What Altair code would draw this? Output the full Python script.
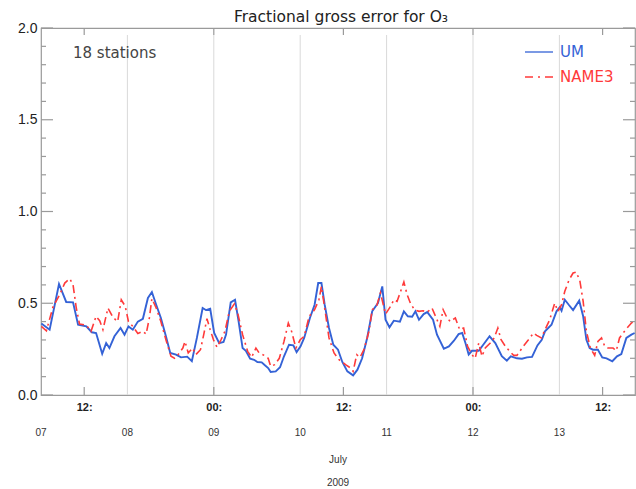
import altair as alt
import pandas as pd

# Hours since 2009-07-07 00:00 and fractional gross error, 18-station mean
um_hours = [0.1, 2.4, 5.0, 7.0, 8.9, 10.3, 12.6, 14.1, 15.3, 17.0, 18.1, 19.0, 20.4, 22.1, 23.2,
            24.3, 25.5, 26.9, 28.3, 29.7, 30.8, 32.0, 33.3, 34.7, 35.9, 37.5, 38.9, 40.6, 41.9,
            43.3, 44.9, 45.8, 47.0, 48.1, 49.5, 50.7, 51.4, 52.7, 53.9, 54.9, 56.0, 56.9, 58.1,
            59.2, 60.1, 61.3, 62.2, 63.1, 63.8, 65.2, 66.4, 67.5, 68.9, 70.1, 71.0, 72.1, 73.1,
            74.7, 76.0, 77.0, 77.9, 78.8, 80.0, 81.2, 82.5, 83.7, 85.1, 86.7, 87.9, 89.2, 90.6,
            92.0, 93.6, 94.8, 95.7, 96.8, 98.0, 99.7, 100.8, 101.9, 103.1, 104.0, 105.0, 106.3,
            107.3, 108.9, 110.0, 111.9, 113.3, 114.7, 116.0, 117.0, 117.9, 118.8, 119.7, 121.6,
            123.0, 124.6, 126.2, 128.0, 129.4, 130.5, 132.2, 133.6, 135.0, 136.4, 137.9, 139.1,
            140.0, 141.8, 143.2, 144.1, 144.6, 145.5, 146.7, 147.8, 149.5, 150.6, 151.5, 152.4,
            153.3, 154.7, 155.9, 157.1, 158.7, 160.0, 161.2, 162.6, 164.0, 164.9]
um_error = [0.39, 0.356, 0.605, 0.507, 0.505, 0.383, 0.374, 0.342, 0.338, 0.225, 0.283, 0.256,
            0.32, 0.365, 0.329, 0.374, 0.356, 0.40, 0.415, 0.529, 0.561, 0.492, 0.42, 0.32, 0.229,
            0.22, 0.205, 0.209, 0.184, 0.311, 0.474, 0.463, 0.47, 0.338, 0.283, 0.289, 0.329,
            0.505, 0.519, 0.40, 0.256, 0.241, 0.198, 0.192, 0.18, 0.178, 0.162, 0.147, 0.125,
            0.129, 0.151, 0.211, 0.274, 0.271, 0.234, 0.265, 0.311, 0.42, 0.492, 0.61, 0.61,
            0.492, 0.365, 0.274, 0.247, 0.18, 0.129, 0.107, 0.138, 0.20, 0.311, 0.456, 0.501,
            0.592, 0.41, 0.369, 0.405, 0.40, 0.456, 0.429, 0.427, 0.456, 0.41, 0.441, 0.452,
            0.41, 0.329, 0.252, 0.265, 0.296, 0.332, 0.338, 0.283, 0.22, 0.241, 0.241, 0.278,
            0.32, 0.283, 0.211, 0.187, 0.211, 0.20, 0.198, 0.205, 0.208, 0.27, 0.301, 0.347,
            0.383, 0.456, 0.478, 0.459, 0.519, 0.489, 0.463, 0.514, 0.429, 0.301, 0.256, 0.247,
            0.247, 0.205, 0.20, 0.184, 0.211, 0.223, 0.311, 0.329, 0.338]

name3_hours = [0.1, 1.5, 3.3, 5.2, 6.6, 8.0, 8.9, 9.8, 10.7, 12.6, 13.9, 15.3, 16.3, 17.2, 18.6,
               20.0, 21.3, 22.3, 23.4, 24.3, 25.5, 26.9, 28.3, 29.2, 30.1, 30.8, 32.0, 33.3,
               34.7, 36.1, 37.1, 38.2, 39.4, 40.0, 40.9, 42.1, 43.0, 44.3, 45.2, 46.1, 47.0,
               47.9, 48.9, 50.0, 51.1, 52.3, 53.7, 54.6, 56.0, 57.4, 58.5, 59.7, 60.6, 62.0,
               63.1, 63.8, 64.9, 66.2, 67.5, 68.7, 69.6, 70.8, 72.0, 73.1, 74.5, 76.0, 77.2,
               77.9, 78.8, 80.0, 81.4, 82.8, 83.7, 84.6, 86.0, 86.7, 87.7, 88.6, 89.7, 91.1,
               92.0, 93.2, 94.3, 95.7, 97.1, 98.0, 98.9, 99.9, 100.8, 101.7, 102.6, 103.7,
               105.0, 106.1, 107.3, 108.6, 110.0, 110.8, 111.7, 112.8, 113.7, 115.1, 116.3,
               117.4, 118.5, 119.7, 120.6, 121.6, 122.5, 123.4, 124.8, 125.9, 126.9, 127.8,
               129.0, 130.2, 131.3, 132.2, 133.1, 134.2, 135.4, 136.8, 137.7, 139.0, 140.0,
               141.3, 142.7, 143.6, 144.6, 145.5, 146.7, 147.8, 148.7, 149.7, 150.6, 151.5,
               152.6, 153.8, 154.7, 155.7, 156.6, 157.5, 158.9, 159.8, 160.7, 161.7, 162.8,
               164.0, 164.9]
name3_error = [0.374, 0.35, 0.478, 0.547, 0.61, 0.634, 0.601, 0.474, 0.387, 0.38, 0.347, 0.429,
               0.405, 0.356, 0.474, 0.423, 0.40, 0.519, 0.483, 0.40, 0.374, 0.335, 0.347, 0.332,
               0.42, 0.525, 0.474, 0.40, 0.301, 0.211, 0.20, 0.223, 0.256, 0.292, 0.229, 0.256,
               0.22, 0.247, 0.329, 0.416, 0.356, 0.301, 0.26, 0.301, 0.347, 0.456, 0.496, 0.45,
               0.329, 0.238, 0.205, 0.256, 0.229, 0.216, 0.20, 0.156, 0.165, 0.20, 0.292, 0.392,
               0.347, 0.256, 0.301, 0.32, 0.429, 0.465, 0.519, 0.592, 0.474, 0.311, 0.229, 0.192,
               0.18, 0.165, 0.147, 0.129, 0.22, 0.205, 0.247, 0.347, 0.465, 0.483, 0.556, 0.441,
               0.483, 0.519, 0.51, 0.565, 0.616, 0.547, 0.501, 0.465, 0.456, 0.459, 0.452, 0.474,
               0.41, 0.374, 0.465, 0.42, 0.40, 0.42, 0.356, 0.365, 0.265, 0.22, 0.20, 0.283,
               0.211, 0.256, 0.283, 0.311, 0.365, 0.301, 0.265, 0.238, 0.216, 0.216, 0.241, 0.271,
               0.301, 0.338, 0.325, 0.311, 0.356, 0.41, 0.501, 0.456, 0.492, 0.565, 0.628, 0.665,
               0.67, 0.62, 0.51, 0.347, 0.256, 0.216, 0.292, 0.311, 0.265, 0.256, 0.256, 0.241,
               0.311, 0.338, 0.365, 0.392, 0.41]

# Axis furniture
tick_hours = [12, 48, 84, 120, 156]
grid_hours = [24, 48, 72, 96, 120, 144]
day_hours = [0, 24, 48, 72, 96, 120, 144]
day_labels = ["07", "08", "09", "10", "11", "12", "13"]
y_major = [0.0, 0.5, 1.0, 1.5, 2.0]
y_minor = [0.1, 0.2, 0.3, 0.4, 0.6, 0.7, 0.8, 0.9, 1.1, 1.2, 1.3, 1.4, 1.6, 1.7, 1.8, 1.9]

UM_COLOR = "#3462d6"
NAME3_COLOR = "#ff3a3a"
FRAME = "#9a9a9a"
W, H = 594, 367

x_enc = alt.X(
    "hour:Q",
    scale=alt.Scale(domain=[0, 165], nice=False, zero=False),
    axis=alt.Axis(
        values=tick_hours, labelExpr="datum.value % 24 == 12 ? '12:' : '00:'",
        ticks=False, tickSize=0, domain=False, grid=False, title=None,
        labelFont="Liberation Sans", labelFontSize=11, labelFontWeight="bold",
        labelColor="#222", labelPadding=6,
    ),
)
y_enc = alt.Y(
    "value:Q",
    scale=alt.Scale(domain=[0, 2], nice=False),
    axis=alt.Axis(
        values=y_major, format=".1f", ticks=False, tickSize=0, domain=False, grid=False,
        title=None, labelFont="Liberation Sans", labelFontSize=14, labelColor="#222",
        labelPadding=4,
    ),
)

um_df = pd.DataFrame({"hour": um_hours, "value": um_error})
name3_df = pd.DataFrame({"hour": name3_hours, "value": name3_error})

grid = alt.Chart(pd.DataFrame({"hour": grid_hours})).mark_rule(
    color="#d9d9d9", strokeWidth=1
).encode(x=x_enc, y=alt.value(7), y2=alt.value(H))

um_line = alt.Chart(um_df).mark_line(color=UM_COLOR, strokeWidth=1.9).encode(x=x_enc, y=y_enc)
name3_line = alt.Chart(name3_df).mark_line(
    color=NAME3_COLOR, strokeWidth=1.6, strokeDash=[8, 4, 2, 4]
).encode(x=x_enc, y=y_enc)

major_df = pd.DataFrame({"value": y_major})
minor_df = pd.DataFrame({"value": y_minor})
xt_df = pd.DataFrame({"hour": tick_hours})


def yticks(df, x0, x1):
    return alt.Chart(df).mark_rule(color=FRAME, strokeWidth=1.2).encode(
        y=y_enc, x=alt.value(x0), x2=alt.value(x1))


def xticks(y0, y1):
    return alt.Chart(xt_df).mark_rule(color=FRAME, strokeWidth=1.2).encode(
        x=x_enc, y=alt.value(y0), y2=alt.value(y1))


ticks = [
    yticks(major_df, 0, 12), yticks(minor_df, 0, 5),
    yticks(major_df, W, W - 12), yticks(minor_df, W, W - 5),
    xticks(0, 7), xticks(H, H - 8),
]

days = alt.Chart(pd.DataFrame({"hour": day_hours, "label": day_labels})).mark_text(
    font="Liberation Sans", fontSize=10, color="#333", baseline="middle"
).encode(x=x_enc, y=alt.value(H + 38), text="label:N")


def free_text(label, x, y, size, color, align="center", font="DejaVu Sans"):
    return alt.Chart(pd.DataFrame({"label": [label]})).mark_text(
        font=font, fontSize=size, color=color, align=align, baseline="middle"
    ).encode(x=alt.value(x), y=alt.value(y), text="label:N")


month = free_text("July", W / 2, H + 65, 10, "#333", font="Liberation Sans")
year = free_text("2009", W / 2, H + 88, 10, "#333", font="Liberation Sans")
title = free_text("Fractional gross error for O\u2083", W / 2 + 3, -11, 15.5, "#222")
stations = free_text("18 stations", 32, 25, 15, "#444", align="left")

legend_df = pd.DataFrame({"label": ["UM", "NAME3"]})
leg_um_line = alt.Chart(legend_df.iloc[[0]]).mark_rule(color=UM_COLOR, strokeWidth=1.3).encode(
    x=alt.value(484), x2=alt.value(512), y=alt.value(24))
leg_n3_line = alt.Chart(legend_df.iloc[[1]]).mark_rule(
    color=NAME3_COLOR, strokeWidth=1.3, strokeDash=[8, 5, 2, 5]
).encode(x=alt.value(484), x2=alt.value(512), y=alt.value(49))
leg_um_text = alt.Chart(legend_df.iloc[[0]]).mark_text(
    font="DejaVu Sans", fontSize=15, color=UM_COLOR, align="left", baseline="middle"
).encode(x=alt.value(519), y=alt.value(24), text="label:N")
leg_n3_text = alt.Chart(legend_df.iloc[[1]]).mark_text(
    font="DejaVu Sans", fontSize=15, color=NAME3_COLOR, align="left", baseline="middle"
).encode(x=alt.value(519), y=alt.value(49), text="label:N")

chart = alt.layer(
    grid, um_line, name3_line, *ticks, days, month, year, title, stations,
    leg_um_line, leg_n3_line, leg_um_text, leg_n3_text,
).properties(
    width=W, height=H,
    autosize=alt.AutoSizeParams(type="none"),
    padding={"left": 41, "top": 28, "right": 1, "bottom": 94},
    background="white",
).configure_view(stroke=FRAME, strokeWidth=1.2)

chart.save("out.html", embed_options={"renderer": "svg", "actions": False})
